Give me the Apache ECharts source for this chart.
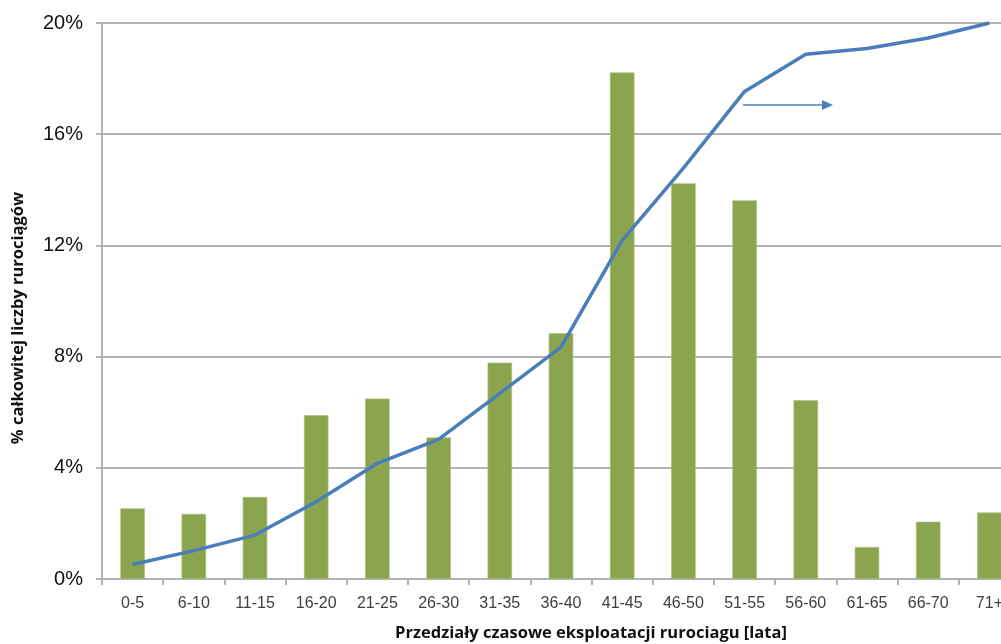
<!DOCTYPE html>
<html>
<head>
<meta charset="utf-8">
<script src="https://cdn.jsdelivr.net/npm/echarts@6/dist/echarts.min.js"></script>
<style>
  html, body { margin: 0; padding: 0; background: #fff; overflow: hidden; }
  /* The plot runs past the right edge of the window, so the last bracket is partly cut */
  #chart { width: 1020px; height: 644px; }
</style>
</head>
<body>
<div id="chart"></div>
<script>
// Age brackets of pipelines (years)
const categories = ['0-5', '6-10', '11-15', '16-20', '21-25', '26-30', '31-35', '36-40',
                    '41-45', '46-50', '51-55', '56-60', '61-65', '66-70', '71+'];
// Share of the total number of pipelines in each bracket (%)
const shareValues = [2.54, 2.34, 2.95, 5.89, 6.49, 5.09, 7.78, 8.84,
                     18.22, 14.23, 13.62, 6.43, 1.15, 2.06, 2.39];
// Cumulative share (%), plotted against the secondary 0–100% scale
const cumulativeValues = [2.6, 5.1, 7.9, 13.9, 20.8, 25.1, 33.4, 41.7,
                          60.9, 73.9, 87.7, 94.4, 95.4, 97.3, 100];
// Left axis ticks
const yTickValues = [0, 4, 8, 12, 16, 20];

const chart = echarts.init(document.getElementById('chart'), null, { renderer: 'canvas' });

const gridColor = '#b3b3b3';

chart.setOption({
  animation: false,
  backgroundColor: '#ffffff',
  grid: { left: 102, top: 23, right: 0, bottom: 65, containLabel: false },
  xAxis: {
    type: 'category',
    data: categories,
    boundaryGap: true,
    axisLine: { show: true, lineStyle: { color: gridColor, width: 2 } },
    axisTick: { show: true, alignWithLabel: false, length: 6, lineStyle: { color: gridColor, width: 2 } },
    axisLabel: { color: '#404040', fontFamily: 'Liberation Sans', fontSize: 16, margin: 17 },
    splitLine: { show: false }
  },
  yAxis: [
    {
      type: 'value',
      min: 0,
      max: 20,
      interval: 4,
      axisLine: { show: true, lineStyle: { color: gridColor, width: 2 } },
      axisTick: { show: true, length: 6, lineStyle: { color: gridColor, width: 2 } },
      axisLabel: {
        color: '#111111', fontFamily: 'Liberation Sans', fontSize: 20, margin: 19,
        formatter: v => yTickValues.includes(v) ? v + '%' : ''
      },
      splitLine: { show: true, lineStyle: { color: gridColor, width: 2 } }
    },
    {
      type: 'value',
      min: 0,
      max: 100,
      show: false,
      splitLine: { show: false }
    }
  ],
  series: [
    {
      name: 'Udział',
      type: 'bar',
      data: shareValues,
      barWidth: '40%',
      itemStyle: { color: '#8aa54e', borderColor: '#a9bf7c', borderWidth: 0.6 },
      z: 2
    },
    {
      name: 'Udział skumulowany',
      type: 'line',
      yAxisIndex: 1,
      data: cumulativeValues,
      showSymbol: false,
      symbol: 'none',
      lineStyle: { color: '#4a7ebb', width: 3.5 },
      z: 3
    }
  ],
  graphic: [
    // Arrow pointing to the cumulative (right-hand) scale
    {
      type: 'line',
      shape: { x1: 743, y1: 105, x2: 824, y2: 105 },
      style: { stroke: '#4a7ebb', lineWidth: 1.5 },
      z: 10
    },
    {
      type: 'polygon',
      shape: { points: [[822, 100], [833, 105], [822, 110]] },
      style: { fill: '#4a7ebb' },
      z: 10
    },
    // Axis titles
    {
      type: 'text',
      x: 591,
      y: 633,
      style: {
        text: 'Przedziały czasowe eksploatacji rurociagu [lata]',
        font: 'bold 16.5px "Open Sans"',
        fill: '#111111',
        align: 'center',
        verticalAlign: 'middle'
      },
      z: 10
    },
    {
      type: 'text',
      x: 18,
      y: 318,
      rotation: Math.PI / 2,
      style: {
        text: '% całkowitej liczby rurociągów',
        font: 'bold 16.5px "Open Sans"',
        fill: '#111111',
        align: 'center',
        verticalAlign: 'middle'
      },
      z: 10
    }
  ]
});
</script>
</body>
</html>
